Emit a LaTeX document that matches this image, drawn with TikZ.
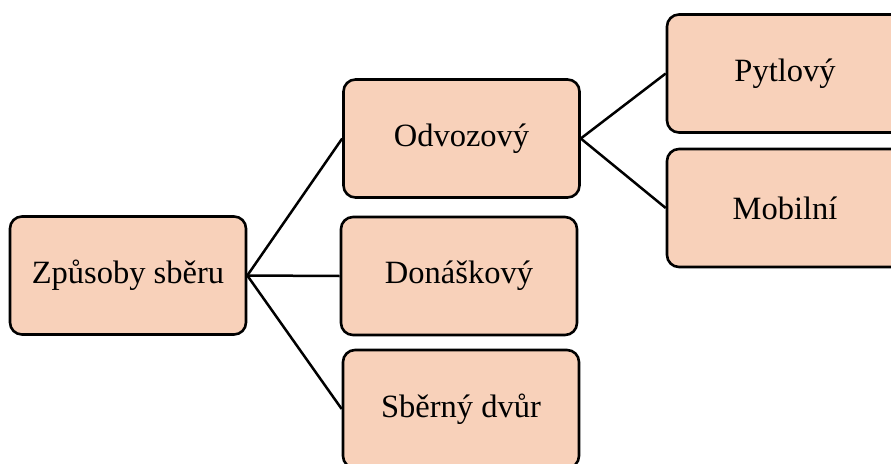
\documentclass[tikz,border=0pt]{standalone}
\usepackage{fontspec}
\setmainfont{Liberation Serif}
\definecolor{peach}{HTML}{F8D1BA}
\begin{document}
\begin{tikzpicture}[x=1pt,y=-1pt,
  box/.style={draw=black, line width=2.6pt, fill=peach, rounded corners=12pt,
    minimum width=236pt, minimum height=118pt, inner sep=0pt,
    font=\fontsize{32.5}{38}\selectfont},
  link/.style={draw=black, line width=2.5pt}]
\clip (0,0) rectangle (891,463);
\useasboundingbox (0,0) rectangle (891,463);
\node[box] (zp) at (128,275.5) {Způsoby sběru};
\node[box] (od) at (461.5,138.5) {Odvozový};
\node[box] (do) at (459,276) {Donáškový};
\node[box] (sb) at (461,409) {Sběrný dvůr};
\node[box] (py) at (785,73.5) {Pytlový};
\node[box] (mo) at (785,208) {Mobilní};
\draw[link] (zp.east) -- (od.west);
\draw[link] (zp.east) -- (do.west);
\draw[link] (zp.east) -- (sb.west);
\draw[link] (od.east) -- (py.west);
\draw[link] (od.east) -- (mo.west);
\end{tikzpicture}
\end{document}
